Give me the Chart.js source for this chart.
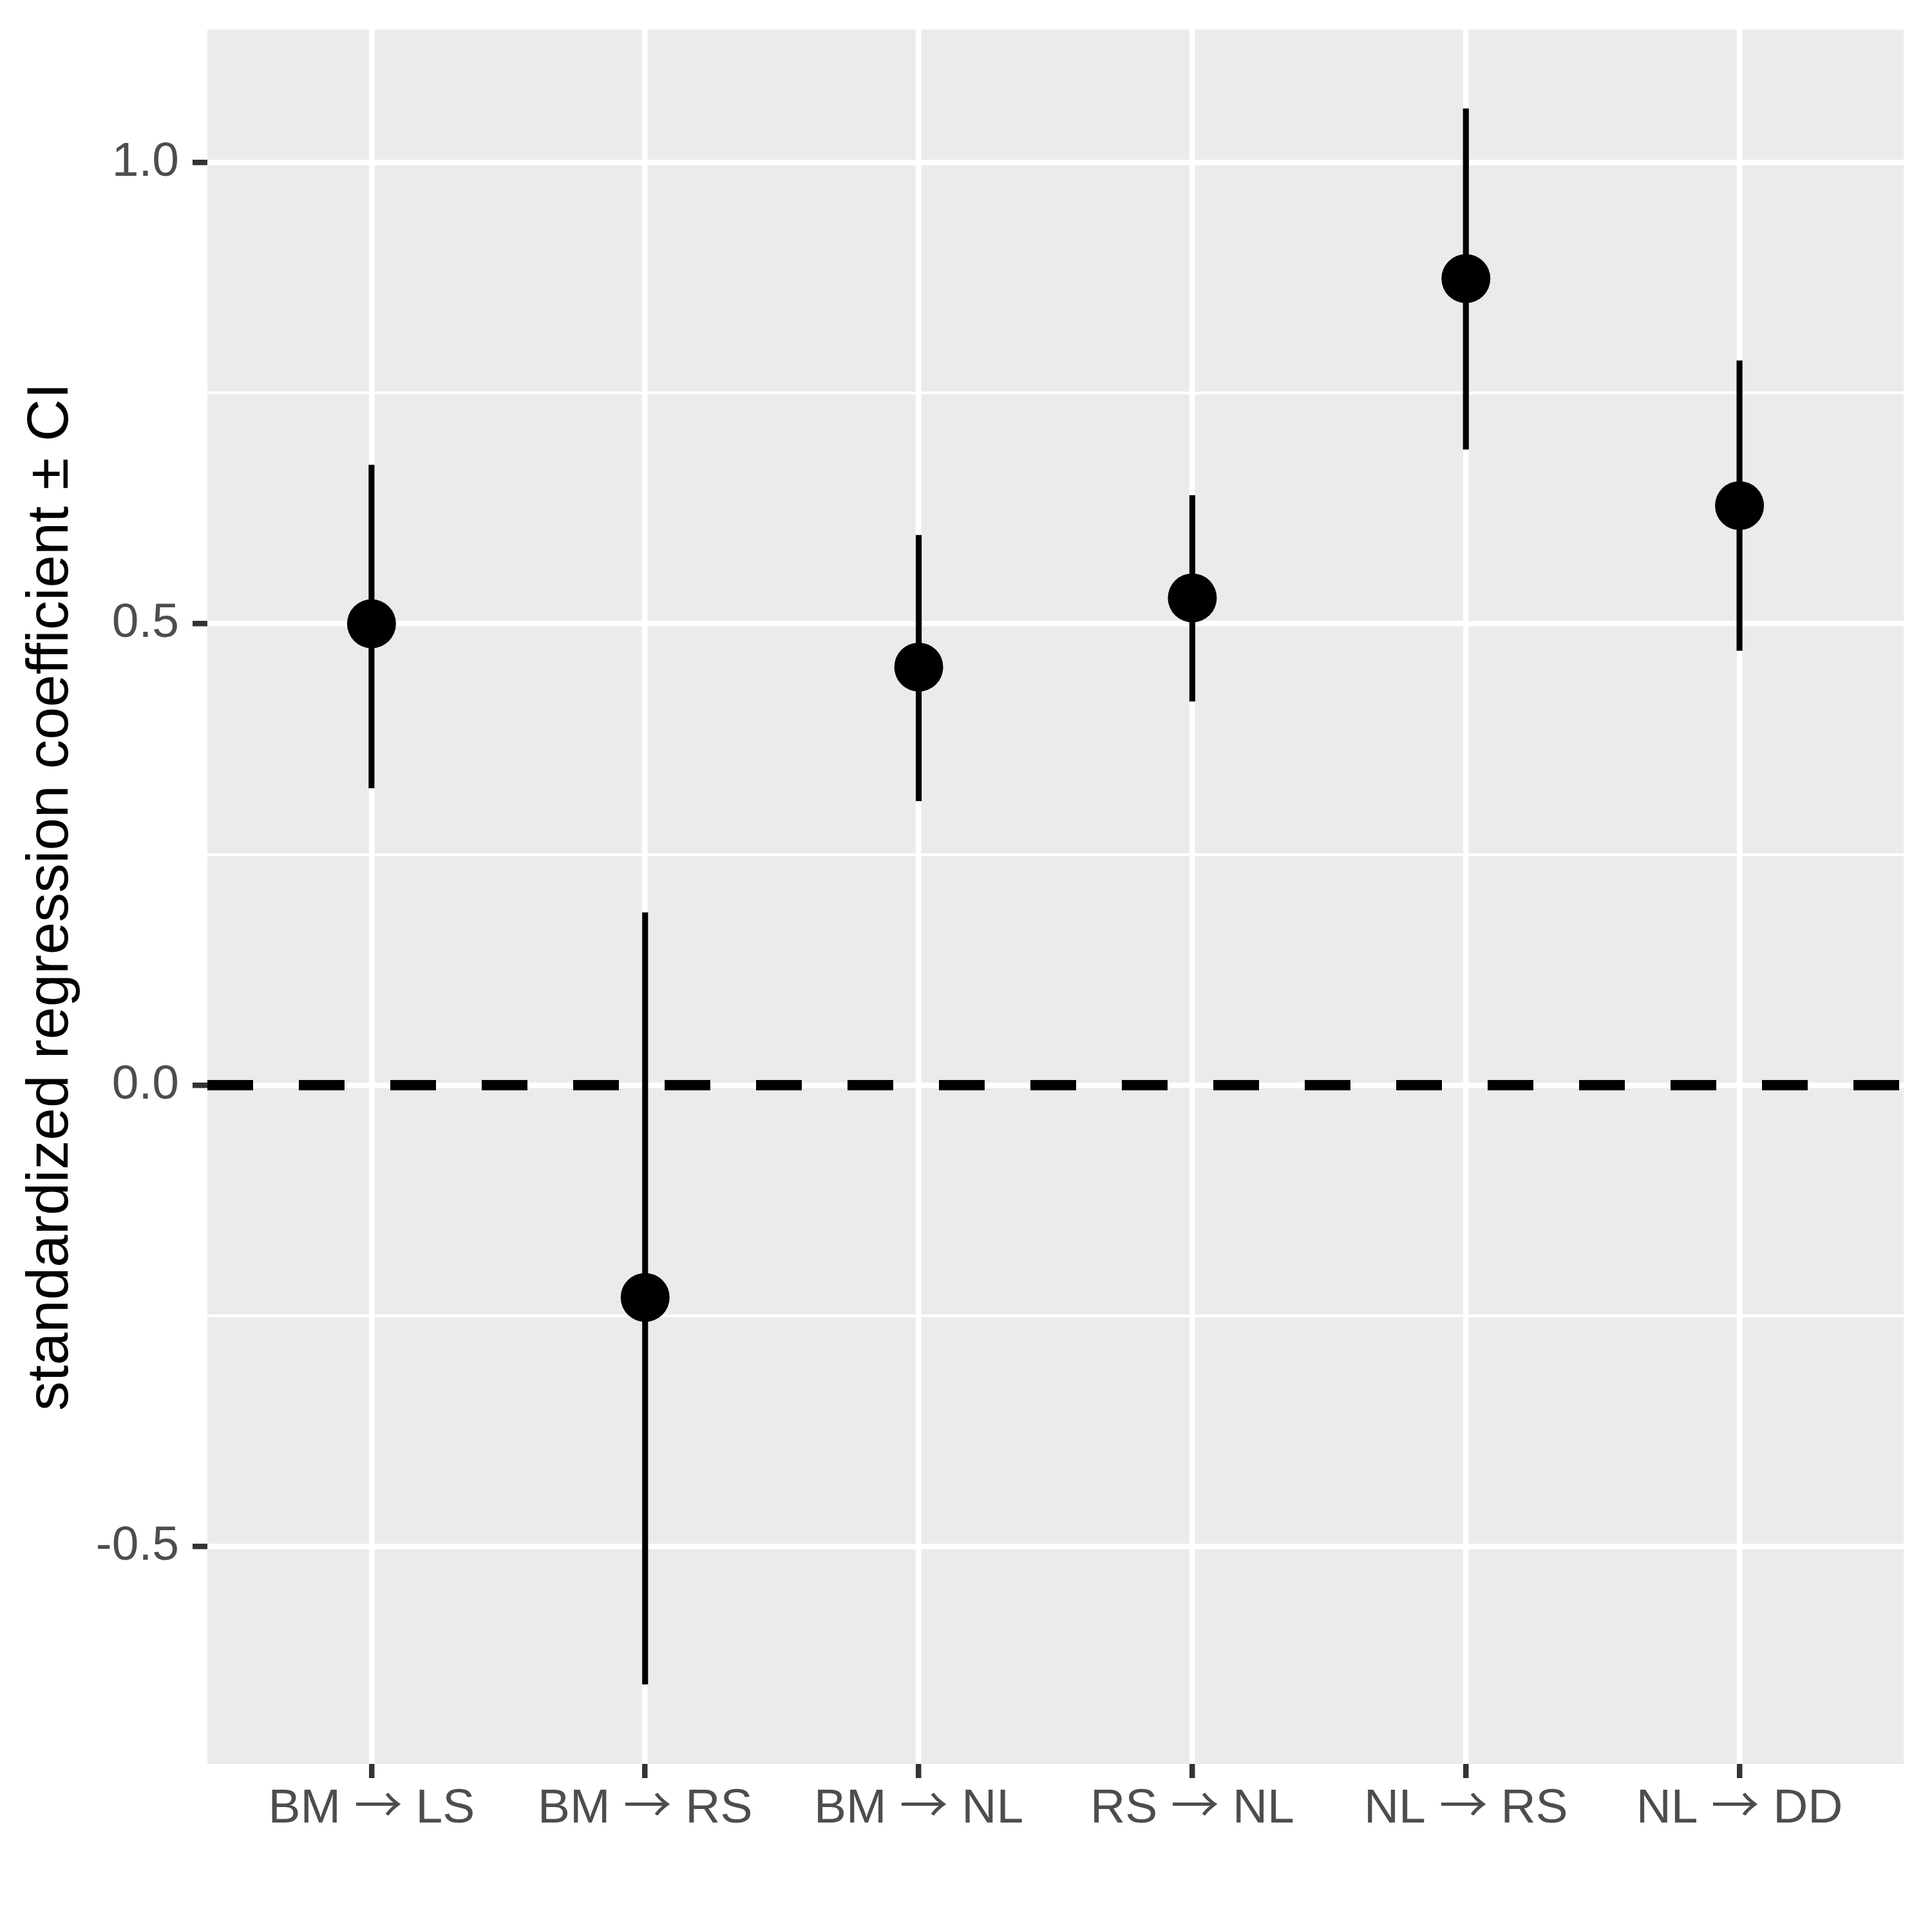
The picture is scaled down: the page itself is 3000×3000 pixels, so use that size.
<!DOCTYPE html>
<html>
<head>
<meta charset="utf-8">
<script src="https://cdn.jsdelivr.net/npm/chart.js@4.4.1/dist/chart.umd.min.js"></script>
<style>
  html, body { margin: 0; padding: 0; background: #fff; }
  canvas { display: block; }
  @font-face {
    font-family: 'ArrowGlyph';
    src: local('Noto Sans CJK JP Regular'), local('NotoSansCJKjp-Regular'), local('Noto Sans CJK JP'), local('DejaVu Sans');
    unicode-range: U+2192;
  }
</style>
</head>
<body>
<canvas id="chart" width="3000" height="3000"></canvas>
<script>
const categories = ['BM \u2192 LS', 'BM \u2192 RS', 'BM \u2192 NL', 'RS \u2192 NL', 'NL \u2192 RS', 'NL \u2192 DD'];
const coefficients = [0.50, -0.23, 0.453, 0.528, 0.874, 0.628];
const ciLower = [0.322, -0.649, 0.308, 0.416, 0.689, 0.471];
const ciUpper = [0.672, 0.187, 0.596, 0.639, 1.058, 0.785];
const yMajorTicks = [-0.5, 0, 0.5, 1.0];
const yMajorLabels = ['-0.5', '0.0', '0.5', '1.0'];
const yMinorTicks = [-0.25, 0.25, 0.75];
const referenceLine = 0;

const xMin = 0.4;
const xMax = categories.length + 0.6;
const yMin = -0.7355;
const yMax = 1.1438;

const FONT = '"Liberation Sans", Arial, Helvetica, sans-serif';
const TICK_FONT = 'ArrowGlyph, ' + FONT;
const isMajor = (v) => yMajorTicks.some((t) => Math.abs(t - v) < 1e-9);

const panelBackground = {
  id: 'panelBackground',
  beforeDraw(chart) {
    const { ctx, chartArea: a } = chart;
    ctx.save();
    ctx.fillStyle = '#EBEBEB';
    ctx.fillRect(a.left, a.top, a.right - a.left, a.bottom - a.top);
    ctx.restore();
  },
};

function drawChart() {
  const ctx = document.getElementById('chart').getContext('2d');
  new Chart(ctx, {
    type: 'scatter',
    data: {
      datasets: [
        {
          type: 'scatter',
          order: 0,
          data: categories.map((c, i) => ({ x: i + 1, y: coefficients[i] })),
          pointRadius: 38,
          pointHoverRadius: 38,
          backgroundColor: '#000',
          borderWidth: 0,
        },
        {
          type: 'bar',
          order: 1,
          data: categories.map((c, i) => ({ x: i + 1, y: [ciLower[i], ciUpper[i]] })),
          barThickness: 8.5,
          backgroundColor: '#000',
          borderWidth: 0,
        },
        {
          type: 'line',
          order: 2,
          data: [{ x: xMin, y: referenceLine }, { x: xMax, y: referenceLine }],
          borderColor: '#000',
          borderWidth: 16,
          borderDash: [71, 71],
          borderCapStyle: 'butt',
          pointRadius: 0,
          fill: false,
        },
      ],
    },
    options: {
      responsive: false,
      animation: false,
      devicePixelRatio: 1,
      layout: { padding: { top: 46, right: 44, left: 0, bottom: 0 } },
      plugins: { legend: { display: false }, tooltip: { enabled: false } },
      scales: {
        x: {
          type: 'linear',
          min: xMin,
          max: xMax,
          offset: false,
          afterBuildTicks: (scale) => {
            scale.ticks = categories.map((c, i) => ({ value: i + 1 }));
          },
          afterFit: (scale) => {
            scale.height = 261;
            scale.paddingLeft = 0;
            scale.paddingRight = 0;
          },
          border: { display: false },
          grid: {
            color: '#fff',
            lineWidth: 8.5,
            tickColor: '#333',
            tickWidth: 8.5,
            tickLength: 22,
            offset: false,
          },
          ticks: {
            autoSkip: false,
            maxRotation: 0,
            padding: 3,
            color: '#4D4D4D',
            font: { family: TICK_FONT, size: 75 },
            callback: (value) => categories[Math.round(value) - 1],
          },
        },
        y: {
          type: 'linear',
          min: yMin,
          max: yMax,
          afterBuildTicks: (scale) => {
            scale.ticks = [...yMajorTicks, ...yMinorTicks].sort((a, b) => a - b).map((v) => ({ value: v }));
          },
          afterFit: (scale) => {
            scale.width = 322;
            scale.paddingTop = 0;
            scale.paddingBottom = 0;
          },
          border: { display: false },
          grid: {
            color: '#fff',
            lineWidth: (c) => (isMajor(c.tick.value) ? 8.5 : 4.25),
            tickColor: (c) => (isMajor(c.tick.value) ? '#333' : 'rgba(0,0,0,0)'),
            tickWidth: 8.5,
            tickLength: 23,
          },
          ticks: {
            padding: 21,
            color: '#4D4D4D',
            font: { family: FONT, size: 75 },
            callback: (value) => {
              const idx = yMajorTicks.findIndex((t) => Math.abs(t - value) < 1e-9);
              return idx >= 0 ? yMajorLabels[idx] : '';
            },
          },
          title: {
            display: true,
            text: 'standardized regression coefficient \u00b1 CI',
            color: '#000',
            font: { family: FONT, size: 91 },
            padding: { top: 25, bottom: 0 },
          },
        },
      },
    },
    plugins: [panelBackground],
  });
}

document.fonts.load('75px ArrowGlyph', '\u2192').then(drawChart, drawChart);
</script>
</body>
</html>
